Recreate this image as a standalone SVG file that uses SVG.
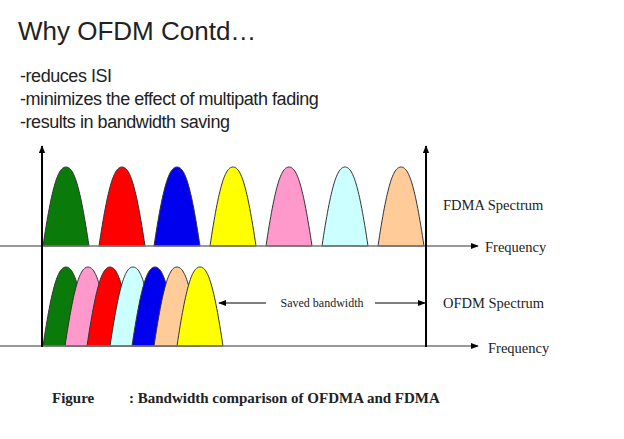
<svg xmlns="http://www.w3.org/2000/svg" width="624" height="439" viewBox="0 0 624 439">
<style>
.t{font-family:"Liberation Sans",Arial,sans-serif;fill:#222}
.s{font-family:"Liberation Serif","Times New Roman",serif;fill:#222}
.ax{stroke:#000;stroke-width:2;fill:none}
.bl{stroke:#777;stroke-width:1.5;fill:none}
.h{stroke:#333;stroke-width:1}
</style>
<defs>
<marker id="ah" viewBox="0 0 10 10" refX="9" refY="5" markerWidth="8" markerHeight="8" markerUnits="userSpaceOnUse" orient="auto"><path d="M0,1 L10,5 L0,9 z" fill="#000"/></marker>
<path id="hu" d="M-23,0 C-14,-60 -8,-79 0,-79 C8,-79 14,-60 23,0 Z"/>
</defs>
<rect width="624" height="439" fill="#fff"/>
<text class="t" x="18" y="40" font-size="26">Why OFDM Contd…</text>
<text class="t" x="20" y="82" font-size="18" letter-spacing="-0.45">-reduces ISI</text>
<text class="t" x="20" y="105" font-size="18" letter-spacing="-0.45">-minimizes the effect of multipath fading</text>
<text class="t" x="20" y="128" font-size="18" letter-spacing="-0.45">-results in bandwidth saving</text>
<g id="top-humps" class="h">
<use href="#hu" x="66" y="246" fill="#0a7a0a"/>
<use href="#hu" x="122" y="246" fill="#ff0000"/>
<use href="#hu" x="177" y="246" fill="#0000ee"/>
<use href="#hu" x="233" y="246" fill="#ffff00"/>
<use href="#hu" x="289" y="246" fill="#ff99cc"/>
<use href="#hu" x="345" y="246" fill="#ccffff"/>
<use href="#hu" x="401" y="246" fill="#ffcc99"/>
</g>
<g id="bottom-humps" class="h">
<use href="#hu" x="66" y="346" fill="#0a7a0a"/>
<use href="#hu" x="88" y="346" fill="#ff99cc"/>
<use href="#hu" x="110" y="346" fill="#ff0000"/>
<use href="#hu" x="133" y="346" fill="#ccffff"/>
<use href="#hu" x="155" y="346" fill="#0000ee"/>
<use href="#hu" x="177" y="346" fill="#ffcc99"/>
<use href="#hu" x="200" y="346" fill="#ffff00"/>
</g>
<g id="connectors">
<line class="bl" x1="0" y1="246" x2="478" y2="246" marker-end="url(#ah)"/>
<line class="bl" x1="0" y1="346" x2="478" y2="346" marker-end="url(#ah)"/>
<line class="ax" x1="42" y1="347" x2="42" y2="146" marker-end="url(#ah)"/>
<line class="ax" x1="426" y1="347" x2="426" y2="146" marker-end="url(#ah)"/>
<line stroke="#000" stroke-width="1" x1="266" y1="303" x2="219" y2="303" marker-end="url(#ah)"/>
<line stroke="#000" stroke-width="1" x1="375" y1="303" x2="425" y2="303" marker-end="url(#ah)"/>
</g>
<text class="s" x="322" y="307" font-size="12" text-anchor="middle">Saved bandwidth</text>
<text class="s" x="443" y="210" font-size="14.5">FDMA Spectrum</text>
<text class="s" x="485" y="252" font-size="14.5">Frequency</text>
<text class="s" x="443" y="308" font-size="14.5">OFDM Spectrum</text>
<text class="s" x="488" y="353" font-size="14.5">Frequency</text>
<text class="s" x="52" y="403" font-size="15" font-weight="bold">Figure</text>
<text class="s" x="129" y="403" font-size="15" font-weight="bold">: Bandwidth comparison of OFDMA and FDMA</text>
</svg>
